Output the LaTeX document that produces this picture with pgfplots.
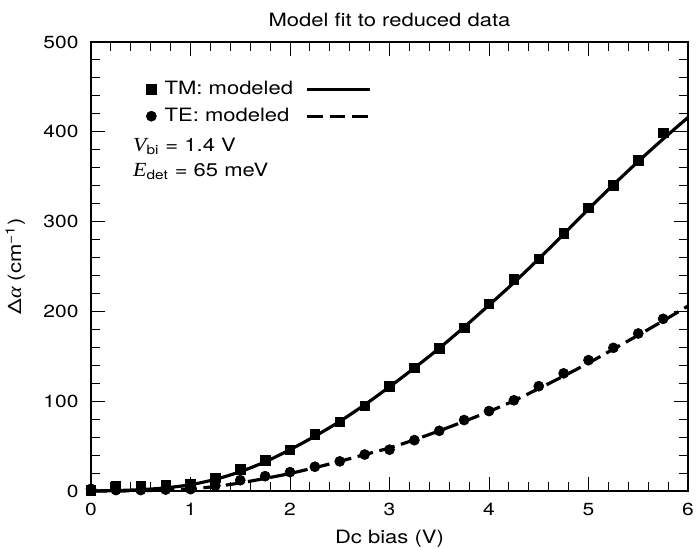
\documentclass[border=0pt]{standalone}
\usepackage{fontspec}
\setmainfont{TeX Gyre Heros}[FakeStretch=1.2]
\newfontfamily\tnr{Liberation Serif}[FakeStretch=1.1]
\usepackage{pgfplots}
\pgfplotsset{compat=1.18}
\usetikzlibrary{calc}
\pgfplotsset{
    markleg/.style={legend image code/.code={%
        \draw[mark repeat=1,mark phase=1,##1] plot coordinates {(3pt,0pt)};}},
    lineleg/.style={legend image code/.code={%
        \draw[##1] (0pt,0pt) -- (38pt,0pt);}},
}

\begin{document}
\begin{tikzpicture}[font=\fontsize{11}{13}\selectfont]
\begin{axis}[
    scale only axis,
    width=358.2pt, height=269.4pt,
    xmin=0, xmax=6, ymin=0, ymax=500,
    xtick={0,1,...,6}, ytick={0,100,...,500},
    minor x tick num=4, minor y tick num=4,
    tick align=inside, tick pos=both,
    major tick length=8.4pt, minor tick length=5.4pt,
    every tick/.style={black, line width=0.6pt},
    axis line style={line width=1.4pt},
    /pgf/number format/assume math mode=true,
    tick label style={font=\fontsize{10.5}{12}\selectfont},
    yticklabel style={xshift=-4pt},
    xticklabel style={yshift=-4pt},
    every axis title shift=0pt,
    title={Model fit to reduced data},
    title style={at={(axis description cs:0.5,1.034)}, anchor=base},
    xlabel={Dc bias (V)},
    xlabel style={at={(axis description cs:0.5,-0.118)}, anchor=base},
    ylabel={Δ{\tnr\itshape\large α} (cm\textsuperscript{−1})},
    ylabel style={at={(axis description cs:-0.117,0.5)}, anchor=base},
    clip=false,
    legend columns=2,
    legend cell align=left,
    legend style={draw=none, fill=none, inner sep=0pt,
        at={(axis cs:0.553,460)}, anchor=north west, row sep=2.5pt,
        /tikz/every odd column/.append style={column sep=3pt},
        /tikz/every even column/.append style={column sep=5.5pt}},
]
% TM data
\addplot[only marks, mark=square*, mark size=2.85pt, black, markleg]
coordinates {
    (0,1)(0.25,5.3)(0.5,6)(0.75,6.9)(1.0,8)(1.25,14.7)(1.5,24)(1.75,34)
    (2.0,46)(2.25,63)(2.5,77)(2.75,95)(3.0,116.7)(3.25,137)(3.5,158.7)
    (3.75,181.7)(4.0,208.5)(4.25,235.5)(4.5,258.5)(4.75,286.7)(5.0,315.3)
    (5.25,340.5)(5.5,368)(5.75,399)
};
\addlegendentry{TM: modeled}
% TM model
\addplot[black, line width=1.9pt, smooth, no markers, lineleg]
coordinates {
    (0,0)(0.25,0.5)(0.5,1.5)(0.75,3.5)(1,7)(1.25,13)(1.5,21.5)(1.75,32.5)
    (2,46)(2.25,61)(2.5,77.5)(2.75,96)(3,116)(3.25,137)(3.5,159)(3.75,182.5)
    (4,207)(4.25,232)(4.5,258.5)(4.75,286)(5,314)(5.25,341)(5.5,367)
    (5.75,392)(6,416)
};
\addlegendentry{\relax}
% TE data
\addplot[only marks, mark=*, mark size=3pt, black, markleg]
coordinates {
    (0,2.4)(0.25,1)(0.5,1)(0.75,1.5)(1.0,2)(1.25,6)(1.5,12)(1.75,16.5)
    (2.0,21)(2.25,27)(2.5,33)(2.75,40.6)(3.0,46)(3.25,56.6)(3.5,67)
    (3.75,79)(4.0,89)(4.25,101)(4.5,116.7)(4.75,131)(5.0,145.7)
    (5.25,159.4)(5.5,175.4)(5.75,191.7)
};
\addlegendentry{TE: modeled}
% TE model
\addplot[black, line width=1.9pt, smooth, no markers, dash pattern=on 9.5pt off 4pt, lineleg]
coordinates {
    (0,0)(0.25,0)(0.5,0.3)(0.75,1)(1,2.5)(1.25,5)(1.5,9)(1.75,14)
    (2,19.5)(2.25,26)(2.5,33)(2.75,40.5)(3,48)(3.25,57)(3.5,67)(3.75,77.5)
    (4,88.5)(4.25,100.5)(4.5,114)(4.75,128)(5,142.5)(5.25,158)(5.5,173.5)
    (5.75,189.5)(6,206)
};
\addlegendentry{\relax}

\node[anchor=base west, inner sep=0pt] at (axis cs:0.42,378)
    {{\tnr\itshape\large V}\textsubscript{bi} = 1.4 V};
\node[anchor=base west, inner sep=0pt] at (axis cs:0.42,350)
    {{\tnr\itshape\large E}\textsubscript{det} = 65 meV};

\coordinate (SW) at (rel axis cs:0,0);
\coordinate (NE) at (rel axis cs:1,1);
\end{axis}
\pgfresetboundingbox
\path ($(SW)+(-54.6pt,-35.4pt)$) rectangle ($(NE)+(6.6pt,25.2pt)$);
\end{tikzpicture}
\end{document}
